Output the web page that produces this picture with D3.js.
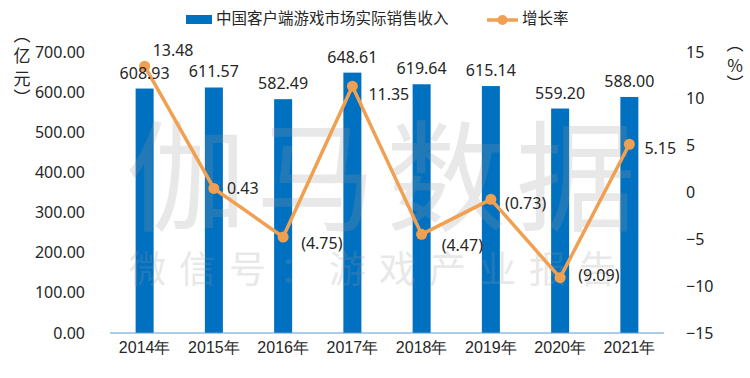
<!DOCTYPE html>
<html><head><meta charset="utf-8">
<script src="https://cdn.jsdelivr.net/npm/d3@7"></script>
<style>body{margin:0;background:#fff;}svg{display:block;}</style>
</head><body>
<script>
const categories = ["2014年","2015年","2016年","2017年","2018年","2019年","2020年","2021年"];
const revenue = [608.93, 611.57, 582.49, 648.61, 619.64, 615.14, 559.20, 588.00];
const growth = [13.48, 0.43, -4.75, 11.35, -4.47, -0.73, -9.09, 5.15];
const leftTicks = [0,100,200,300,400,500,600,700];
const rightTicks = [-15,-10,-5,0,5,10,15];
const seriesNames = ["中国客户端游戏市场实际销售收入","增长率"];

const W=750,H=378;
const m={l:110,r:86,t:52,b:45};
const font='"Noto Sans CJK SC","Noto Sans",sans-serif';
const svg=d3.select("body").append("svg").attr("width",W).attr("height",H).style("font-family",font);

const x=d3.scaleBand().domain(categories).range([m.l,W-m.r]).paddingInner(0.74).paddingOuter(0.37);
const yL=d3.scaleLinear().domain([0,700]).range([H-m.b,m.t]);
const yR=d3.scaleLinear().domain([-15,15]).range([H-m.b,m.t]);
const blue="#0070C0", orange="#F0A050", txt="#262626";

// bars
svg.append("g").selectAll("rect").data(revenue).join("rect")
  .attr("x",(d,i)=>x(categories[i])).attr("width",x.bandwidth())
  .attr("y",d=>yL(d)).attr("height",d=>yL(0)-yL(d)).attr("fill",blue);

// watermark (over bars, semi-transparent)
svg.append("text").attr("x",126).attr("y",222)
  .attr("font-size",120).attr("fill","#9a9a9a").attr("opacity",0.22).attr("letter-spacing",10).text("伽马数据");
svg.append("text").attr("x",129).attr("y",283)
  .attr("font-size",37).attr("fill","#9a9a9a").attr("opacity",0.22).attr("letter-spacing",13).text("微信号：游戏产业报告");

// baseline
svg.append("line").attr("x1",m.l).attr("x2",W-m.r).attr("y1",yL(0)).attr("y2",yL(0))
  .attr("stroke","#5B9BD5").attr("stroke-width",1.2);

// left axis
const gl=svg.append("g").attr("transform",`translate(${m.l-22},0)`)
  .call(d3.axisLeft(yL).tickValues(leftTicks).tickFormat(d3.format(".2f")).tickSize(0));
gl.select(".domain").remove();
gl.selectAll("text").attr("font-size",16).attr("fill",txt).attr("font-family",'"Noto Sans",sans-serif');

// right axis
const gr=svg.append("g").attr("transform",`translate(${W-m.r+19},0)`)
  .call(d3.axisRight(yR).tickValues(rightTicks).tickSize(0));
gr.select(".domain").remove();
gr.selectAll("text").attr("font-size",16).attr("fill",txt).attr("font-family",'"Noto Sans",sans-serif');

// x axis
const gx=svg.append("g").attr("transform",`translate(0,${yL(0)+6})`)
  .call(d3.axisBottom(x).tickSize(0));
gx.select(".domain").remove();
gx.selectAll("text").attr("font-size",16).attr("fill",txt);

// axis titles
const lt=["︵","亿","元","︶"], ltY=[36,57,80,99];
lt.forEach((c,i)=>svg.append("text").attr("x",22).attr("y",ltY[i]).attr("text-anchor","middle")
  .attr("dominant-baseline","middle").attr("font-size",17).attr("fill",txt).text(c));
const rt=["︵","%","︶"], rtY=[45,67,85];
rt.forEach((c,i)=>svg.append("text").attr("x",735).attr("y",rtY[i]).attr("text-anchor","middle")
  .attr("dominant-baseline","middle").attr("font-size",17).attr("fill",txt).text(c));

// line
const cx=i=>x(categories[i])+x.bandwidth()/2;
const line=d3.line().x((d,i)=>cx(i)).y(d=>yR(d));
svg.append("path").datum(growth).attr("d",line).attr("fill","none")
  .attr("stroke",orange).attr("stroke-width",3.5).attr("stroke-linejoin","round");
svg.append("g").selectAll("circle").data(growth).join("circle")
  .attr("cx",(d,i)=>cx(i)).attr("cy",d=>yR(d)).attr("r",5.5).attr("fill",orange);

// bar labels
svg.append("g").selectAll("text").data(revenue).join("text")
  .attr("x",(d,i)=>cx(i)).attr("y",d=>yL(d)-10).attr("text-anchor","middle")
  .attr("font-size",16).attr("fill",txt).attr("font-family",'"Noto Sans",sans-serif')
  .text(d=>d.toFixed(2));

// growth labels
const gOff=[[8,-15],[13,1],[18,8],[16,10],[20,12],[14,5],[18,-1],[15,5]];
svg.append("g").selectAll("text").data(growth).join("text")
  .attr("x",(d,i)=>cx(i)+gOff[i][0]).attr("y",(d,i)=>yR(d)+gOff[i][1]).attr("dominant-baseline","middle")
  .attr("font-size",16).attr("fill",txt).attr("font-family",'"Noto Sans",sans-serif')
  .text(d=>d<0?`(${Math.abs(d).toFixed(2)})`:d.toFixed(2));

// legend
const lg=svg.append("g");
lg.append("rect").attr("x",186).attr("y",15).attr("width",26).attr("height",9).attr("fill",blue);
lg.append("text").attr("x",216).attr("y",20).attr("dominant-baseline","middle").attr("font-size",15.5).attr("fill",txt).text(seriesNames[0]);
lg.append("line").attr("x1",487).attr("x2",518).attr("y1",20).attr("y2",20).attr("stroke",orange).attr("stroke-width",3.5);
lg.append("circle").attr("cx",502.5).attr("cy",20).attr("r",5).attr("fill",orange);
lg.append("text").attr("x",522).attr("y",20).attr("dominant-baseline","middle").attr("font-size",15.5).attr("fill",txt).text(seriesNames[1]);
</script>
</body></html>
